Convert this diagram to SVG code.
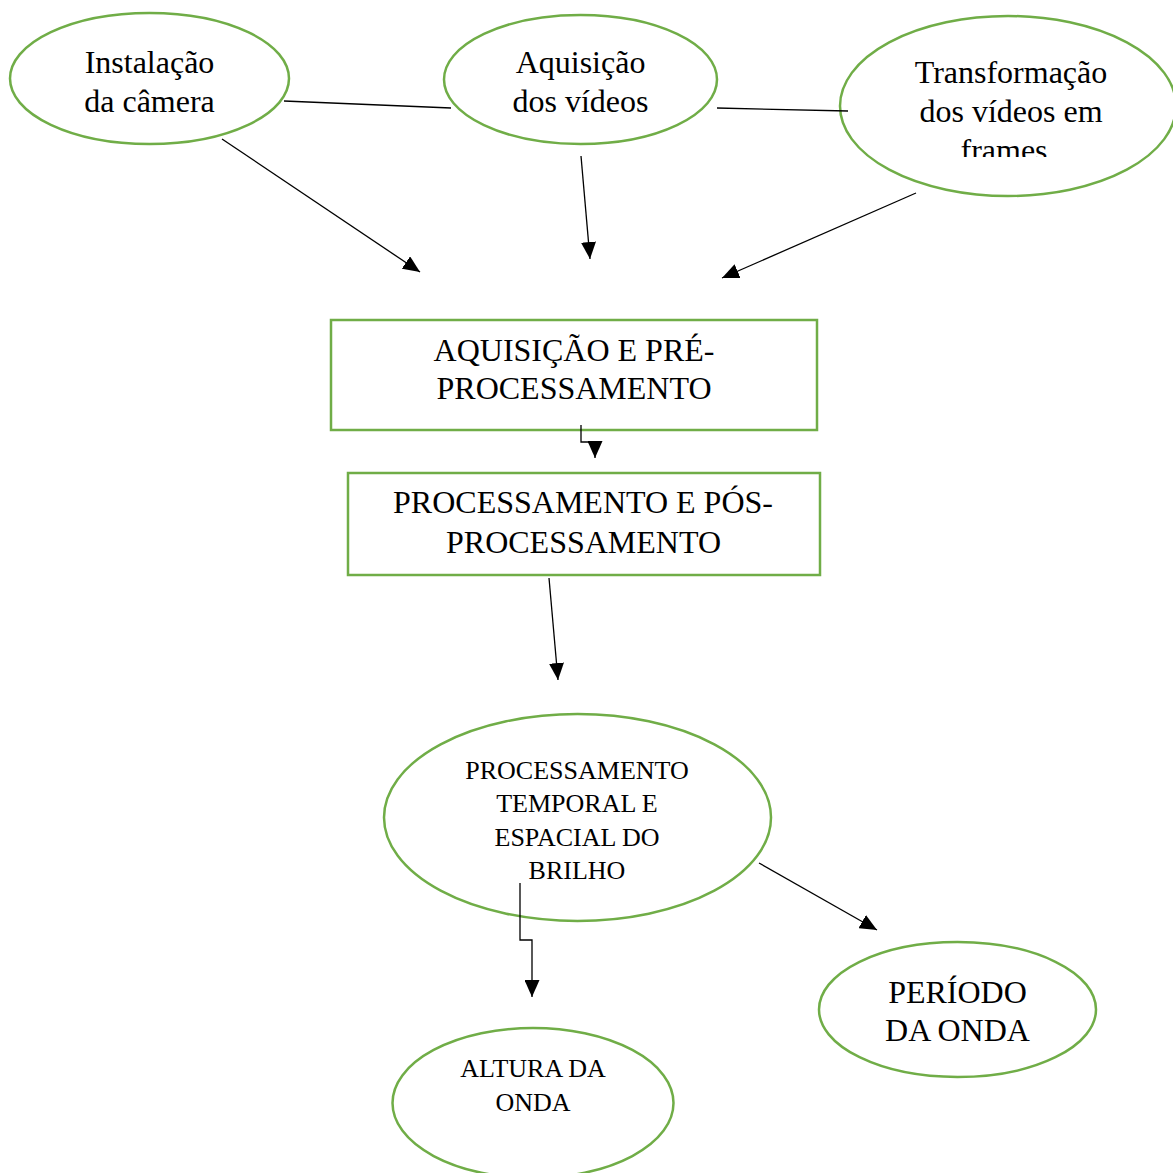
<svg xmlns="http://www.w3.org/2000/svg" width="1173" height="1173" viewBox="0 0 1173 1173">
<style>
.n{fill:#fff;stroke:#70AD47;stroke-width:2.5}
.t{font-family:"Liberation Serif","Times New Roman",serif;font-size:32px;fill:#000;text-anchor:middle}
.s{font-size:26px}
.c{fill:none;stroke:#000;stroke-width:1.3}
</style>
<defs>
<marker id="ah" markerUnits="userSpaceOnUse" markerWidth="17" markerHeight="15" refX="17" refY="7.5" orient="auto" viewBox="0 0 17 15">
<path d="M0,0 L17,7.5 L0,15 z" fill="#000"/>
</marker>
<clipPath id="clipF"><rect x="830" y="0" width="343" height="157"/></clipPath>
</defs>
<rect width="1173" height="1173" fill="#fff"/>
<g id="n1">
<ellipse class="n" cx="149.5" cy="78.5" rx="139.5" ry="65.5"/>
<text class="t" x="149.5" y="73">Instalação</text>
<text class="t" x="149.5" y="112">da câmera</text>
</g>
<g id="n2">
<ellipse class="n" cx="580.5" cy="79.5" rx="136.5" ry="64.5"/>
<text class="t" x="580.5" y="73">Aquisição</text>
<text class="t" x="580.5" y="112">dos vídeos</text>
</g>
<g id="n3">
<ellipse class="n" cx="1008" cy="106" rx="168" ry="90"/>
<g clip-path="url(#clipF)">
<text class="t" x="1011" y="83">Transformação</text>
<text class="t" x="1011" y="122">dos vídeos em</text>
<text class="t" x="1008" y="161">frames.</text>
</g>
</g>
<g id="n4">
<rect class="n" x="331" y="320" width="486" height="110"/>
<text class="t" x="574" y="361">AQUISIÇÃO E PRÉ-</text>
<text class="t" x="574" y="399">PROCESSAMENTO</text>
</g>
<g id="n5">
<rect class="n" x="348" y="473" width="472" height="102"/>
<text class="t" x="583" y="513">PROCESSAMENTO E PÓS-</text>
<text class="t" x="583.5" y="553">PROCESSAMENTO</text>
</g>
<g id="n6">
<ellipse class="n" cx="577.5" cy="817.5" rx="193.5" ry="103.5"/>
<text class="t s" x="577" y="779">PROCESSAMENTO</text>
<text class="t s" x="577" y="812">TEMPORAL E</text>
<text class="t s" x="577" y="846">ESPACIAL DO</text>
<text class="t s" x="577" y="879">BRILHO</text>
</g>
<g id="n7">
<ellipse class="n" cx="533" cy="1103" rx="140.5" ry="75"/>
<text class="t s" x="533" y="1077">ALTURA DA</text>
<text class="t s" x="533" y="1111">ONDA</text>
</g>
<g id="n8">
<ellipse class="n" cx="957.5" cy="1009.5" rx="138.5" ry="67.5"/>
<text class="t" x="957.5" y="1003">PERÍODO</text>
<text class="t" x="957.5" y="1041">DA ONDA</text>
</g>
<g id="connectors">
<line class="c" x1="284" y1="101" x2="451" y2="108"/>
<line class="c" x1="717" y1="108" x2="848" y2="111"/>
<line class="c" x1="222" y1="139" x2="420" y2="272" marker-end="url(#ah)"/>
<line class="c" x1="581" y1="156" x2="590" y2="259" marker-end="url(#ah)"/>
<line class="c" x1="916" y1="193" x2="722" y2="278" marker-end="url(#ah)"/>
<polyline class="c" points="581,425 581,442 595,442 595,458" marker-end="url(#ah)"/>
<line class="c" x1="549" y1="578" x2="558" y2="680" marker-end="url(#ah)"/>
<polyline class="c" points="520,883 520,940 532,940 532,997" marker-end="url(#ah)"/>
<line class="c" x1="759" y1="863" x2="877" y2="930" marker-end="url(#ah)"/>
</g>
</svg>
